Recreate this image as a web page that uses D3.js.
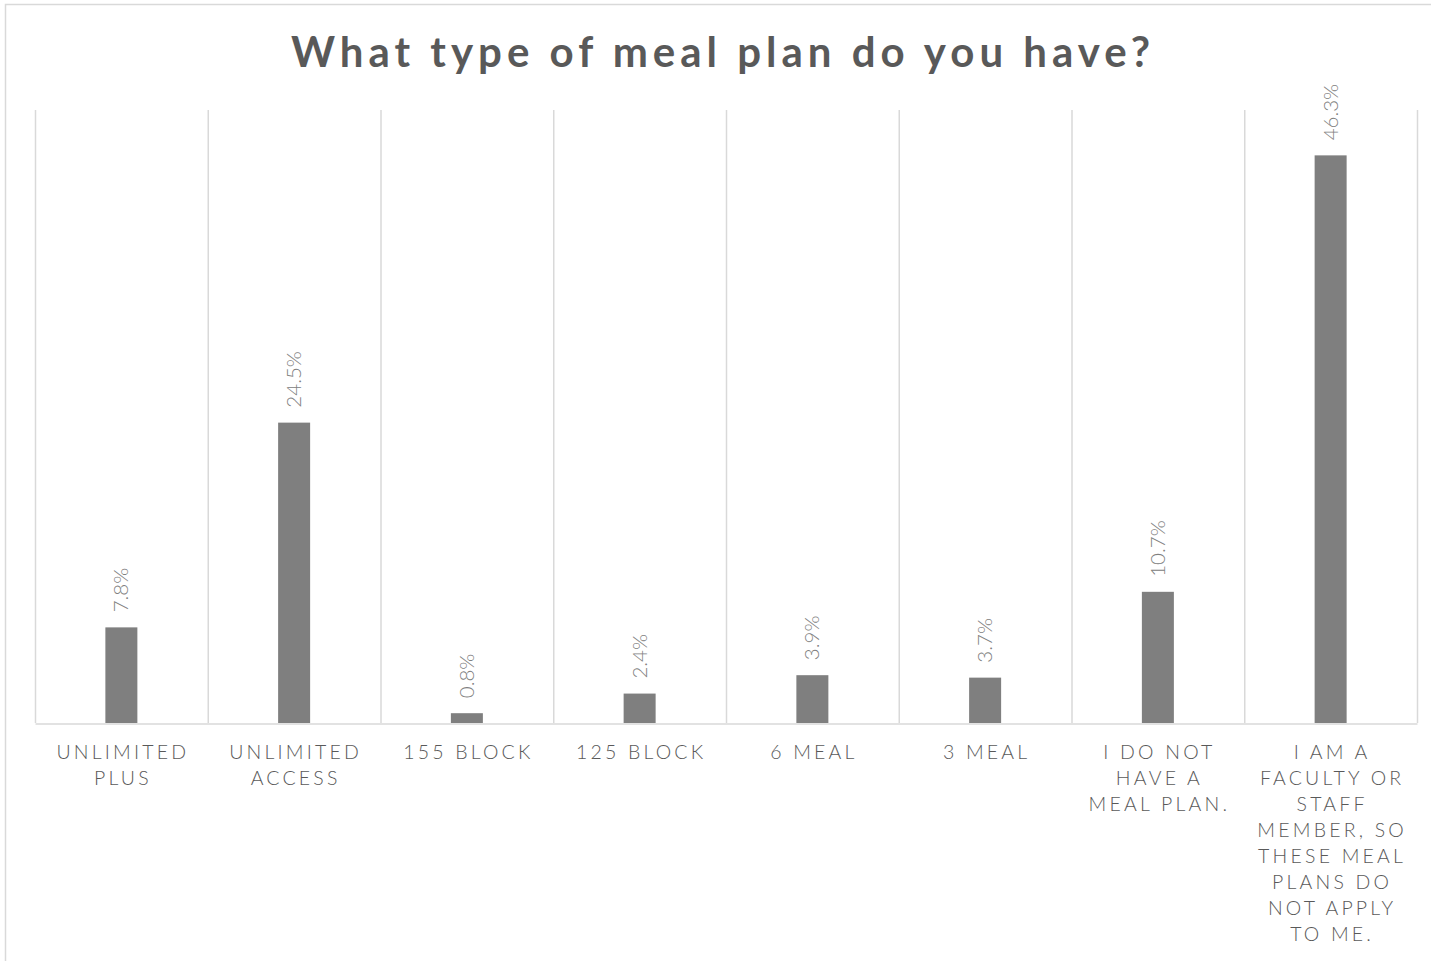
<!DOCTYPE html>
<html>
<head>
<meta charset="utf-8">
<script src="https://cdn.jsdelivr.net/npm/d3@7"></script>
<style>
  html, body { margin: 0; padding: 0; background: #fff; }
  svg { display: block; }
</style>
</head>
<body>
<svg id="chart" width="1431" height="961"></svg>
<script>
const categories = [
  ["UNLIMITED", "PLUS"],
  ["UNLIMITED", "ACCESS"],
  ["155 BLOCK"],
  ["125 BLOCK"],
  ["6 MEAL"],
  ["3 MEAL"],
  ["I DO NOT", "HAVE A", "MEAL PLAN."],
  ["I AM A", "FACULTY OR", "STAFF", "MEMBER, SO", "THESE MEAL", "PLANS DO", "NOT APPLY", "TO ME."]
];
const values = [7.8, 24.5, 0.8, 2.4, 3.9, 3.7, 10.7, 46.3];
const yDomain = [0, 50];
const title = "What type of meal plan do you have?";

const svg = d3.select("#chart");
const plotLeft = 35, plotRight = 1417, plotTop = 110, plotBottom = 723;
const fontFamily = "'Century Gothic', Lato, 'Noto Sans', sans-serif";

// outer border
svg.append("rect")
  .attr("x", 5.5).attr("y", 4.5)
  .attr("width", 1460).attr("height", 1000)
  .attr("fill", "#fff").attr("stroke", "#d9d9d9").attr("stroke-width", 1.5);

// title
svg.append("text")
  .attr("x", 723).attr("y", 67)
  .attr("text-anchor", "middle")
  .attr("font-family", fontFamily)
  .attr("font-weight", "bold")
  .attr("font-size", 42)
  .attr("letter-spacing", 5)
  .attr("fill", "#595959")
  .text(title);

const idx = categories.map((d, i) => i);
const x = d3.scaleBand().domain(idx).range([plotLeft, plotRight]).paddingInner(0).paddingOuter(0);
const y = d3.scaleLinear().domain(yDomain).range([plotBottom, plotTop]);

// vertical gridlines at category boundaries
const bounds = idx.map(i => x(i)).concat([plotRight]);
svg.append("g").selectAll("line").data(bounds).join("line")
  .attr("x1", d => d + 0.5).attr("x2", d => d + 0.5)
  .attr("y1", plotTop).attr("y2", plotBottom)
  .attr("stroke", "#d9d9d9").attr("stroke-width", 1.5);

// bars
const barW = 32;
svg.append("g").selectAll("rect").data(values).join("rect")
  .attr("x", (d, i) => x(i) + x.bandwidth() / 2 - barW / 2)
  .attr("y", d => y(d))
  .attr("width", barW)
  .attr("height", d => y(0) - y(d))
  .attr("fill", "#7f7f7f");

// baseline axis
const xAxis = d3.axisBottom(x).tickSize(0).tickFormat(() => "");
const axG = svg.append("g").attr("transform", `translate(0,${plotBottom + 0.5})`).call(xAxis);
axG.select(".domain").attr("stroke", "#d9d9d9").attr("stroke-width", 1.5);

// data labels (rotated)
svg.append("g").selectAll("text").data(values).join("text")
  .attr("transform", (d, i) => `translate(${x(i) + x.bandwidth() / 2 + 7},${y(d) - 15}) rotate(-90)`)
  .attr("text-anchor", "start")
  .attr("font-family", fontFamily)
  .attr("font-weight", 300)
  .attr("font-size", 20.5)
  .attr("fill", "#808080")
  .text(d => d.toFixed(1) + "%");

// category labels
const lab = svg.append("g").selectAll("text").data(categories).join("text")
  .attr("text-anchor", "middle")
  .attr("font-family", fontFamily)
  .attr("font-weight", 300)
  .attr("font-size", 19.5)
  .attr("letter-spacing", 3.2)
  .attr("fill", "#595959");
lab.each(function(lines, i) {
  const t = d3.select(this);
  lines.forEach((ln, j) => {
    t.append("tspan")
      .attr("x", x(i) + x.bandwidth() / 2 + 1.5)
      .attr("y", 759 + j * 26)
      .text(ln);
  });
});
</script>
</body>
</html>
